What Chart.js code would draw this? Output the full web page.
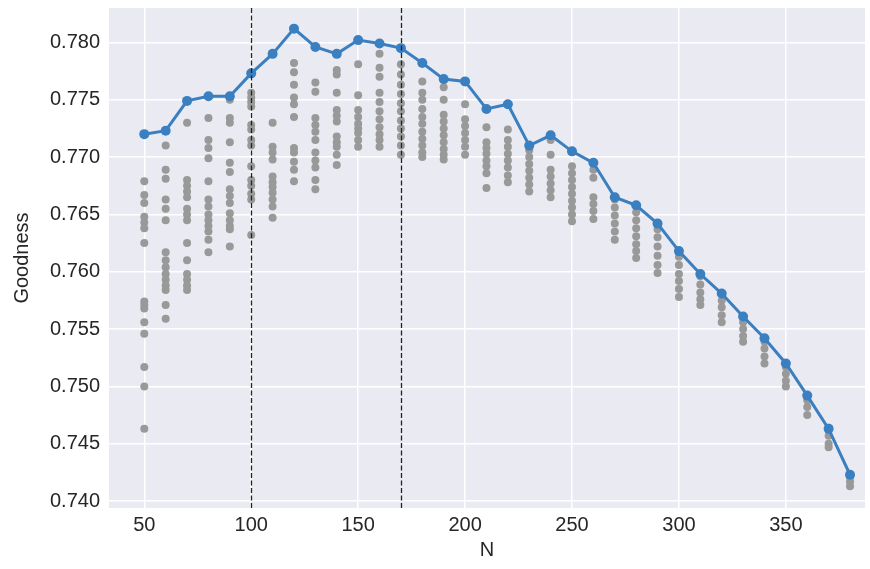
<!DOCTYPE html>
<html>
<head>
<meta charset="utf-8">
<script src="https://cdn.jsdelivr.net/npm/chart.js@4"></script>
<style>
  html, body { margin: 0; padding: 0; background: #ffffff; }
  #wrap { width: 870px; height: 569px; }
</style>
</head>
<body>
<div id="wrap"><canvas id="chart" width="870" height="569"></canvas></div>
<script>
const nValues = [50, 60, 70, 80, 90, 100, 110, 120, 130, 140, 150, 160, 170, 180, 190, 200, 210,
  220, 230, 240, 250, 260, 270, 280, 290, 300, 310, 320, 330, 340, 350, 360, 370, 380];

const bestScores = [0.7720, 0.7723, 0.7749, 0.7753, 0.7753, 0.7773, 0.7790, 0.7812, 0.7796, 0.7790,
  0.7802, 0.7799, 0.7795, 0.7782, 0.7768, 0.7766, 0.7742, 0.7746, 0.7710, 0.7719, 0.7705, 0.7695,
  0.7665, 0.7658, 0.7642, 0.7618, 0.7598, 0.7581, 0.7561, 0.7542, 0.7520, 0.7492, 0.7463, 0.7423];

const trialScores = [
  [0.7679, 0.7667, 0.7660, 0.7648, 0.7643, 0.7638, 0.7625, 0.7574, 0.7571, 0.7568, 0.7556, 0.7546, 0.7517, 0.7500, 0.7463],
  [0.7710, 0.7689, 0.7681, 0.7663, 0.7655, 0.7645, 0.7617, 0.7610, 0.7604, 0.7598, 0.7593, 0.7588, 0.7584, 0.7571, 0.7559],
  [0.7730, 0.7680, 0.7675, 0.7670, 0.7665, 0.7655, 0.7650, 0.7645, 0.7625, 0.7610, 0.7598, 0.7593, 0.7588, 0.7584],
  [0.7734, 0.7715, 0.7708, 0.7699, 0.7679, 0.7663, 0.7657, 0.7650, 0.7645, 0.7640, 0.7635, 0.7628, 0.7617],
  [0.7750, 0.7734, 0.7730, 0.7713, 0.7695, 0.7687, 0.7672, 0.7666, 0.7660, 0.7651, 0.7645, 0.7640, 0.7637, 0.7622],
  [0.7756, 0.7752, 0.7748, 0.7744, 0.7728, 0.7724, 0.7715, 0.7710, 0.7692, 0.7680, 0.7675, 0.7668, 0.7663, 0.7632],
  [0.7730, 0.7709, 0.7704, 0.7698, 0.7683, 0.7678, 0.7674, 0.7669, 0.7663, 0.7657, 0.7647],
  [0.7782, 0.7774, 0.7763, 0.7752, 0.7746, 0.7735, 0.7708, 0.7704, 0.7696, 0.7689, 0.7679],
  [0.7765, 0.7757, 0.7734, 0.7728, 0.7722, 0.7715, 0.7704, 0.7697, 0.7691, 0.7680, 0.7672],
  [0.7776, 0.7772, 0.7756, 0.7741, 0.7736, 0.7731, 0.7718, 0.7713, 0.7709, 0.7702, 0.7693],
  [0.7781, 0.7754, 0.7741, 0.7735, 0.7729, 0.7725, 0.7721, 0.7715, 0.7709],
  [0.7790, 0.7778, 0.7770, 0.7756, 0.7748, 0.7740, 0.7733, 0.7726, 0.7720, 0.7715, 0.7709],
  [0.7781, 0.7772, 0.7763, 0.7755, 0.7747, 0.7740, 0.7732, 0.7725, 0.7718, 0.7710, 0.7702],
  [0.7766, 0.7756, 0.7750, 0.7742, 0.7735, 0.7729, 0.7722, 0.7716, 0.7710, 0.7704, 0.7700],
  [0.7761, 0.7750, 0.7737, 0.7731, 0.7725, 0.7719, 0.7713, 0.7707, 0.7702, 0.7698],
  [0.7746, 0.7733, 0.7727, 0.7721, 0.7715, 0.7709, 0.7702],
  [0.7726, 0.7713, 0.7708, 0.7703, 0.7697, 0.7692, 0.7686, 0.7673],
  [0.7724, 0.7715, 0.7709, 0.7703, 0.7697, 0.7691, 0.7684, 0.7678],
  [0.7706, 0.7700, 0.7694, 0.7688, 0.7682, 0.7676, 0.7670],
  [0.7715, 0.7702, 0.7689, 0.7683, 0.7677, 0.7671, 0.7665],
  [0.7692, 0.7686, 0.7680, 0.7674, 0.7668, 0.7662, 0.7656, 0.7650, 0.7644],
  [0.7689, 0.7682, 0.7665, 0.7659, 0.7653, 0.7646],
  [0.7663, 0.7656, 0.7649, 0.7642, 0.7635, 0.7628],
  [0.7652, 0.7645, 0.7638, 0.7631, 0.7624, 0.7618, 0.7612],
  [0.7637, 0.7630, 0.7622, 0.7614, 0.7606, 0.7599],
  [0.7613, 0.7606, 0.7598, 0.7592, 0.7585, 0.7578],
  [0.7596, 0.7589, 0.7582, 0.7576, 0.7571],
  [0.7575, 0.7569, 0.7562, 0.7556],
  [0.7556, 0.7550, 0.7544, 0.7539],
  [0.7539, 0.7533, 0.7526, 0.7520],
  [0.7517, 0.7511, 0.7505, 0.7500],
  [0.7488, 0.7482, 0.7475],
  [0.7464, 0.7457, 0.7450, 0.7447],
  [0.7421, 0.7417, 0.7413]
];

const markerN = [100, 170];
const xTicks = [50, 100, 150, 200, 250, 300, 350];
const yTicks = [0.740, 0.745, 0.750, 0.755, 0.760, 0.765, 0.770, 0.775, 0.780];

const textColor = "#262626";
const font = { family: "'Liberation Sans', Arial, sans-serif", size: 20 };

const trialPoints = [];
nValues.forEach((n, i) => {
  trialScores[i].forEach((v) => trialPoints.push({ x: n, y: v }));
});
const bestPoints = nValues.map((n, i) => ({ x: n, y: bestScores[i] }));

// grey plot background behind everything
const plotBackground = {
  id: "plotBackground",
  beforeDraw(chart) {
    const { ctx, chartArea: a } = chart;
    ctx.save();
    ctx.fillStyle = "#eaeaf2";
    ctx.fillRect(a.left, a.top, a.right - a.left, a.bottom - a.top);
    ctx.restore();
  }
};

// dashed vertical markers at the chosen N values
const markerLines = {
  id: "markerLines",
  afterDatasetsDraw(chart) {
    const { ctx, chartArea: a, scales } = chart;
    ctx.save();
    ctx.strokeStyle = "#222222";
    ctx.lineWidth = 1.3;
    ctx.setLineDash([5, 2.5]);
    markerN.forEach((n) => {
      const x = Math.round(scales.x.getPixelForValue(n)) + 0.5;
      ctx.beginPath();
      ctx.moveTo(x, a.top);
      ctx.lineTo(x, a.bottom);
      ctx.stroke();
    });
    ctx.restore();
  }
};

new Chart(document.getElementById("chart").getContext("2d"), {
  type: "scatter",
  data: {
    datasets: [
      {
        type: "line",
        label: "best",
        data: bestPoints,
        borderColor: "#3a7fc0",
        backgroundColor: "#3a7fc0",
        borderWidth: 3,
        pointRadius: 5,
        pointBorderWidth: 0,
        tension: 0,
        order: 0
      },
      {
        label: "trials",
        data: trialPoints,
        backgroundColor: "#999999",
        borderWidth: 0,
        pointRadius: 4,
        order: 1
      }
    ]
  },
  options: {
    responsive: false,
    animation: false,
    layout: { padding: { top: 8, right: 4, left: 0, bottom: 0 } },
    plugins: {
      legend: { display: false },
      tooltip: { enabled: false }
    },
    scales: {
      x: {
        type: "linear",
        min: 33.5,
        max: 387,
        afterBuildTicks: (scale) => { scale.ticks = xTicks.map((v) => ({ value: v })); },
        afterFit: (scale) => { scale.height = 61; },
        grid: { color: "#ffffff", lineWidth: 1.5, drawTicks: false },
        border: { display: false },
        ticks: { color: textColor, font, padding: 5 },
        title: { display: true, text: "N", color: textColor, font, padding: { top: 0, bottom: 7 } }
      },
      y: {
        type: "linear",
        min: 0.7394,
        max: 0.7830,
        afterBuildTicks: (scale) => { scale.ticks = yTicks.map((v) => ({ value: v })); },
        afterFit: (scale) => {
          scale.width = 109;
          scale.paddingTop = 0;
          scale.paddingBottom = 0;
        },
        grid: { color: "#ffffff", lineWidth: 1.5, drawTicks: false },
        border: { display: false },
        ticks: { color: textColor, font, padding: 9, callback: (v) => v.toFixed(3) },
        title: { display: true, text: "Goodness", color: textColor, font, padding: { top: 10, bottom: 4 } }
      }
    }
  },
  plugins: [plotBackground, markerLines]
});
</script>
</body>
</html>
